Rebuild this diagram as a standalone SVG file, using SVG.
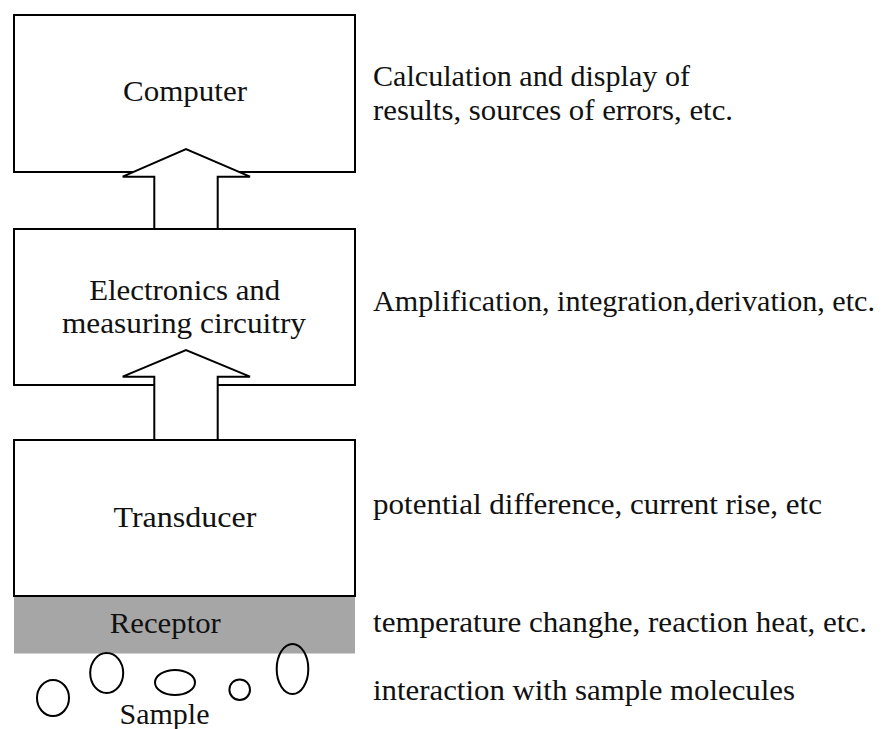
<svg xmlns="http://www.w3.org/2000/svg" width="890" height="729" viewBox="0 0 890 729">
<style>
.box{fill:#fff;stroke:#000;stroke-width:2}
.arrow{fill:#fff;stroke:#000;stroke-width:2;stroke-linejoin:miter}
.mol{fill:none;stroke:#000;stroke-width:2}
text{font-family:"Liberation Serif","Times New Roman",serif;font-size:29.5px;fill:#111}
.c{text-anchor:middle}
</style>
<rect width="890" height="729" fill="#fff"/>
<g id="computer">
<rect class="box" x="14" y="15" width="341" height="157"/>
<text class="c" x="185" y="101" textLength="124" lengthAdjust="spacingAndGlyphs">Computer</text>
</g>
<g id="electronics">
<rect class="box" x="14" y="229" width="341" height="156"/>
<text class="c" x="184.7" y="300" textLength="191" lengthAdjust="spacingAndGlyphs">Electronics and</text>
<text class="c" x="184" y="333" textLength="244" lengthAdjust="spacingAndGlyphs">measuring circuitry</text>
</g>
<g id="transducer">
<rect class="box" x="14" y="440" width="341" height="156"/>
<text class="c" x="185" y="527" textLength="143" lengthAdjust="spacingAndGlyphs">Transducer</text>
</g>
<g id="receptor">
<rect x="14" y="597" width="341" height="56.5" fill="#a6a6a6"/>
<text class="c" x="165.3" y="633" textLength="111" lengthAdjust="spacingAndGlyphs">Receptor</text>
</g>
<g id="sample">
<ellipse class="mol" cx="53" cy="698" rx="16" ry="18"/>
<ellipse class="mol" cx="106.7" cy="673" rx="16.5" ry="20"/>
<ellipse class="mol" cx="175" cy="682.5" rx="20" ry="12.5"/>
<ellipse class="mol" cx="239.7" cy="689.7" rx="10.3" ry="10.3"/>
<ellipse class="mol" cx="292.5" cy="669" rx="15.8" ry="25"/>
<text class="c" x="164.5" y="724" textLength="90" lengthAdjust="spacingAndGlyphs">Sample</text>
</g>
<g id="connectors">
<polygon class="arrow" points="154.3,229 154.3,176.7 122.7,176.7 186,149 250,176.7 217.7,176.7 217.7,229"/>
<polygon class="arrow" points="154.3,440 154.3,376.7 122.7,376.7 186,350 250,376.7 217.7,376.7 217.7,440"/>
</g>
<g id="descriptions">
<text x="373" y="86" textLength="317" lengthAdjust="spacingAndGlyphs">Calculation and display of</text>
<text x="373" y="120" textLength="360" lengthAdjust="spacingAndGlyphs">results, sources of errors, etc.</text>
<text x="373" y="311" textLength="502" lengthAdjust="spacingAndGlyphs">Amplification, integration,derivation, etc.</text>
<text x="373" y="514" textLength="449" lengthAdjust="spacingAndGlyphs">potential difference, current rise, etc</text>
<text x="373" y="631.7" textLength="494" lengthAdjust="spacingAndGlyphs">temperature changhe, reaction heat, etc.</text>
<text x="373" y="700" textLength="422" lengthAdjust="spacingAndGlyphs">interaction with sample molecules</text>
</g>
</svg>
